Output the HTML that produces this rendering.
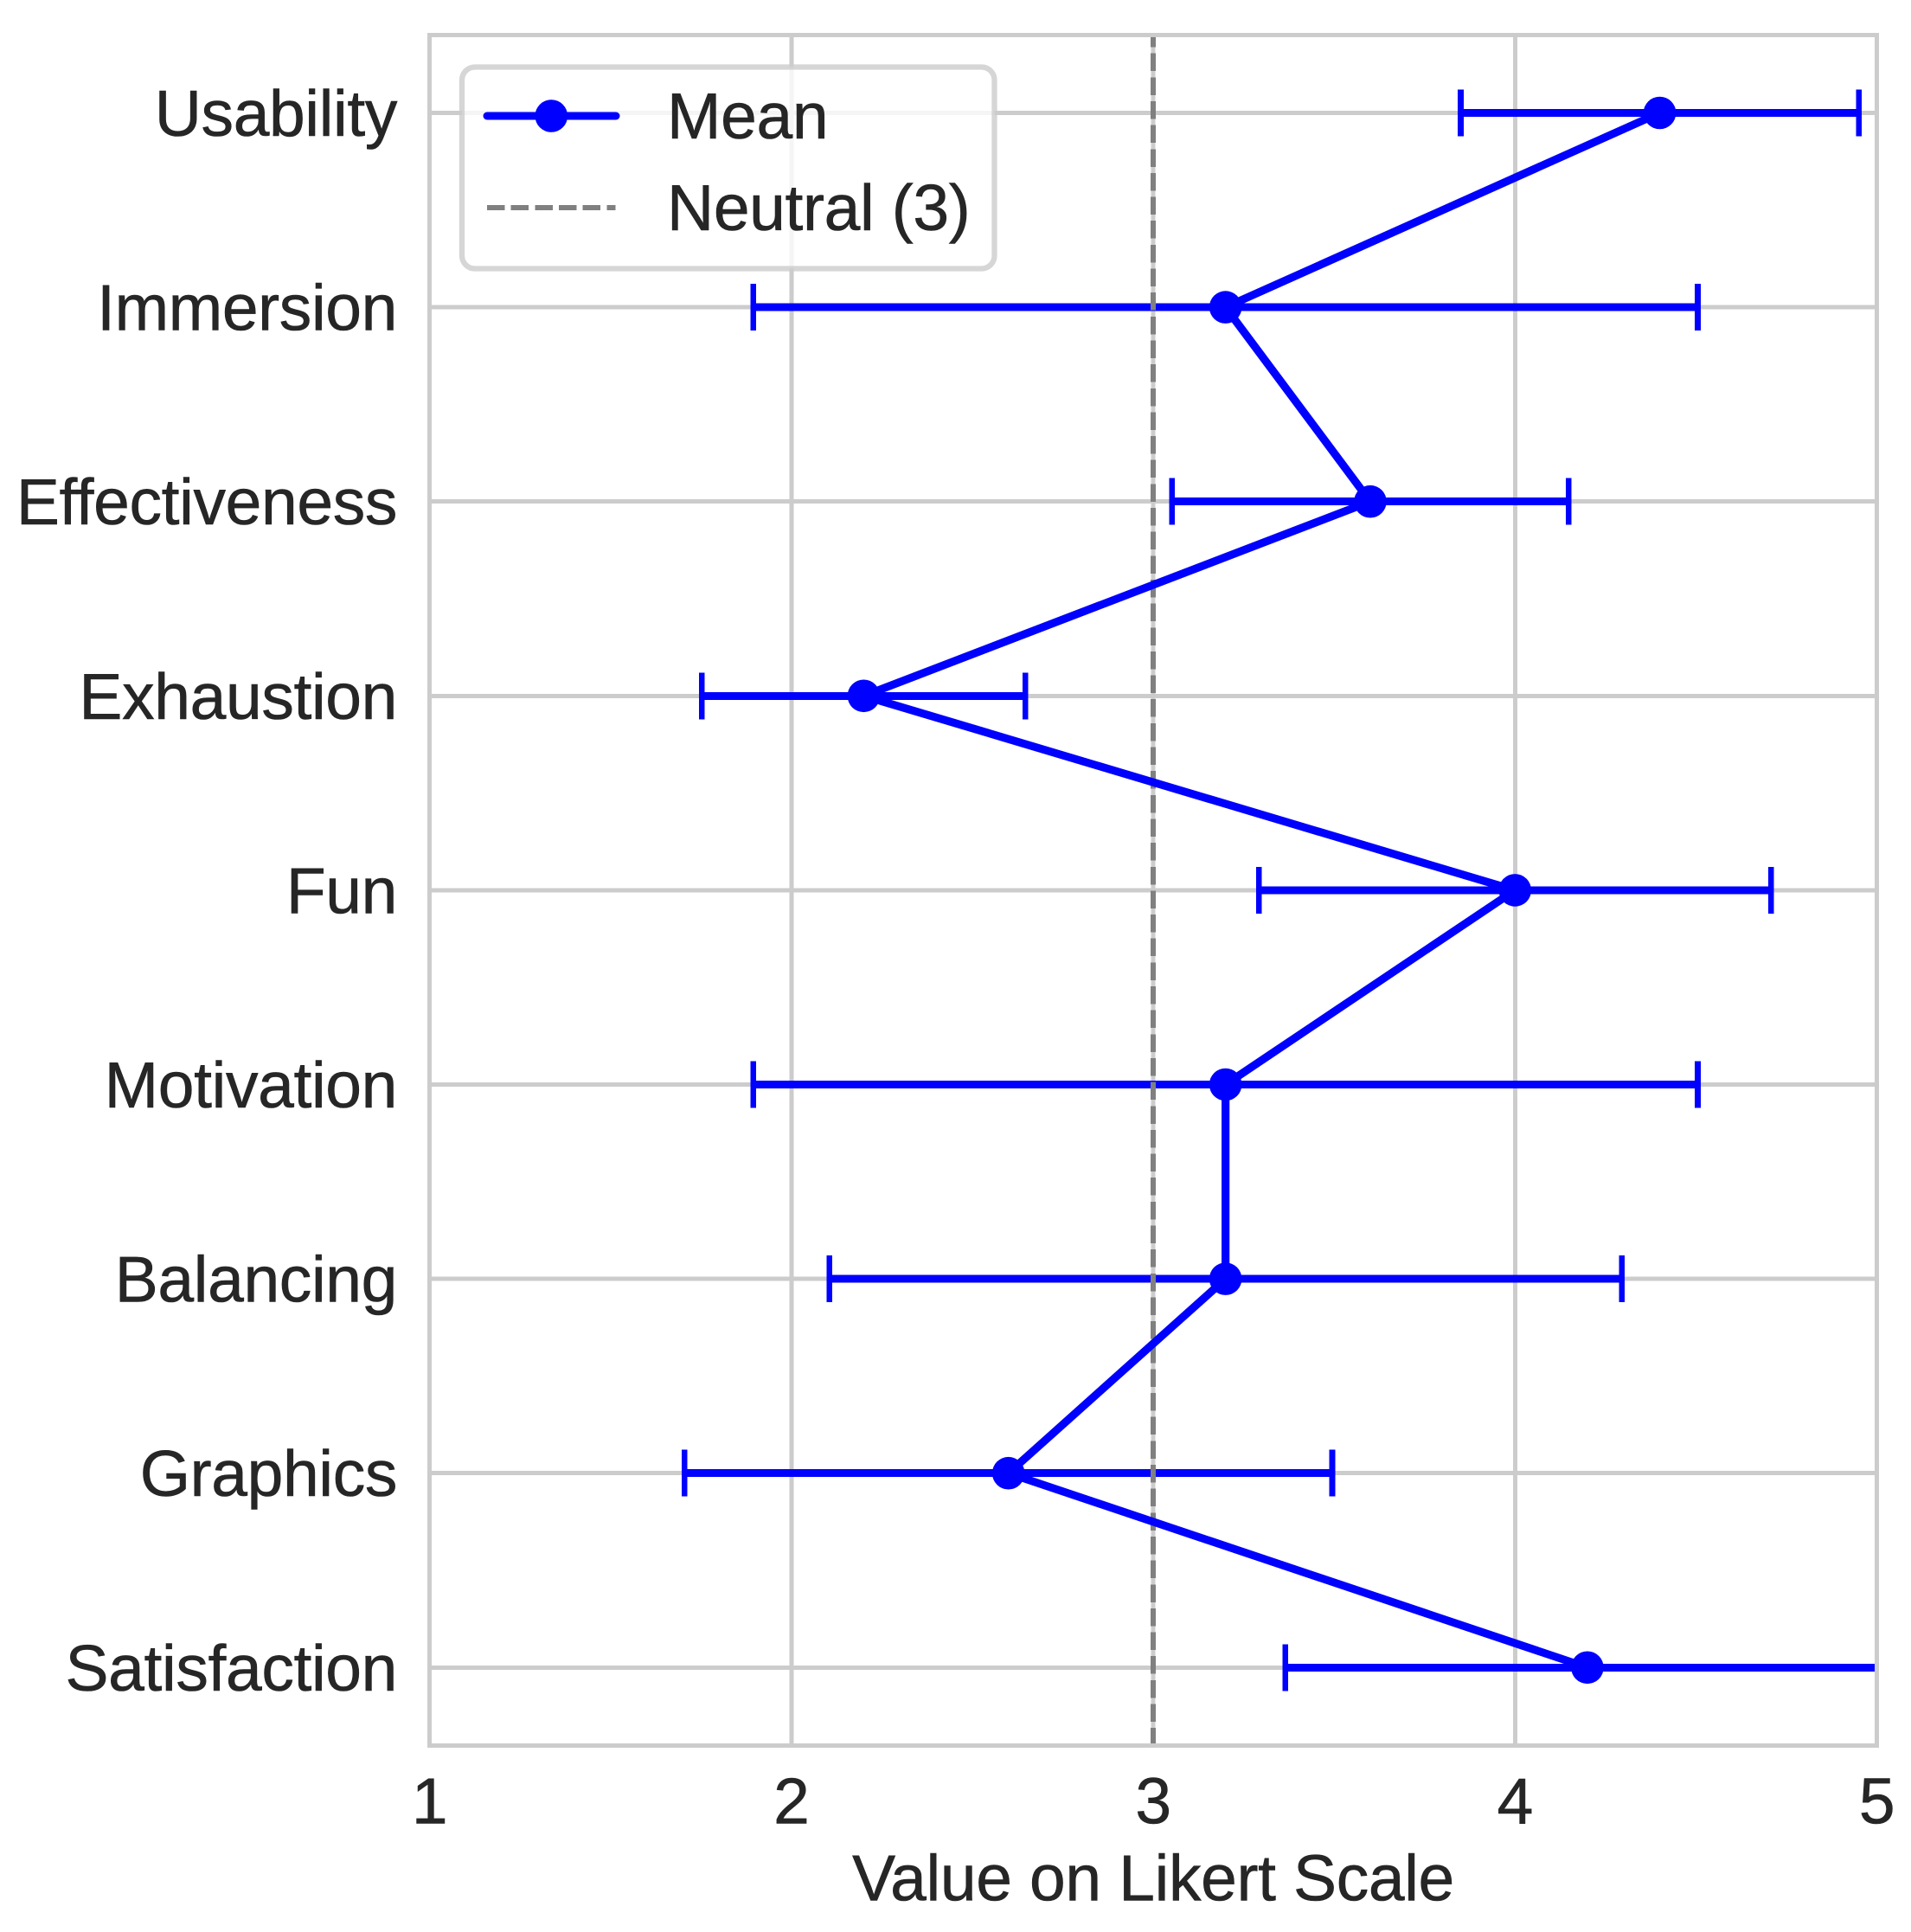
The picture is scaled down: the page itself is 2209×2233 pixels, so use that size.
<!DOCTYPE html>
<html lang="en">
<head>
<meta charset="utf-8">
<title>Value on Likert Scale</title>
<style>
html,body{margin:0;padding:0;background:#fff;width:2209px;height:2233px;overflow:hidden}
svg{display:block}
text{font-family:"Liberation Sans",Arial,sans-serif;fill:#262626;stroke:#262626;stroke-width:0.6px;font-size:75px;letter-spacing:-0.35px}
</style>
</head>
<body>
<svg id="chart" xmlns="http://www.w3.org/2000/svg" width="2209" height="2233" viewBox="0 0 2209 2233"></svg>
<script>
const categories = ["Usability","Immersion","Effectiveness","Exhaustion","Fun","Motivation","Balancing","Graphics","Satisfaction"];
const meanValues = [4.4,3.2,3.6,2.2,4.0,3.2,3.2,2.6,4.2];
const lowerBounds = [3.85,1.895,3.052,1.753,3.292,1.895,2.105,1.705,3.365];
const upperBounds = [4.95,4.505,4.148,2.647,4.708,4.505,4.295,3.495,5.04];
const xTicks = [1,2,3,4,5];
const neutralValue = [3];
const xAxisTitle = "Value on Likert Scale";
const legendLabels = ["Mean","Neutral (3)"];

const NS = "http://www.w3.org/2000/svg";
const svg = document.getElementById("chart");
const plot = {left:496.5,right:2169.5,top:40.5,bottom:2017.5,firstRow:130.5,rowStep:224.6};
const xScale = v => plot.left + (v - 1) * (plot.right - plot.left) / 4;
const yScale = i => plot.firstRow + i * plot.rowStep;

function make(tag, attrs, parent){
  const el = document.createElementNS(NS, tag);
  for (const k in attrs) el.setAttribute(k, attrs[k]);
  (parent || svg).appendChild(el);
  return el;
}

const defs = make("defs", {});
const clip = make("clipPath", {id:"plot-clip"}, defs);
make("rect", {x:plot.left,y:plot.top,width:plot.right-plot.left,height:plot.bottom-plot.top}, clip);

/* grid */
xTicks.forEach(t => {
  const g = make("line", {x1:xScale(t),x2:xScale(t),y1:plot.top,y2:plot.bottom,stroke:"#cccccc","stroke-width":5,"shape-rendering":"crispEdges"});
  
  
});
categories.forEach((c, i) => {
  const g = make("line", {x1:plot.left,x2:plot.right,y1:yScale(i),y2:yScale(i),stroke:"#cccccc","stroke-width":5,"shape-rendering":"crispEdges"});
  
  
});

/* error bars */
const errGroup = make("g", {"clip-path":"url(#plot-clip)"});


categories.forEach((c, i) => {
  const y = yScale(i), a = xScale(lowerBounds[i]), b = xScale(upperBounds[i]);
  const bar = make("line", {x1:a,x2:b,y1:y,y2:y,stroke:"#0000ff","stroke-width":9,"shape-rendering":"crispEdges"}, errGroup);
  
  
  [a, b].forEach(x => {
    const cap = make("line", {x1:x,x2:x,y1:y-27,y2:y+27,stroke:"#0000ff","stroke-width":6.6,"shape-rendering":"crispEdges"}, errGroup);
    
    
  });
});

/* neutral line */
const neutralLine = make("line", {x1:xScale(neutralValue[0]),x2:xScale(neutralValue[0]),y1:2017.65,y2:plot.top,stroke:"#808080","stroke-width":6,"stroke-dasharray":"20.5 7.15","shape-rendering":"crispEdges"});



/* mean line + markers */
const meanPoints = meanValues.map((v, i) => xScale(v) + "," + yScale(i)).join(" ");
const meanLine = make("polyline", {points:meanPoints,fill:"none",stroke:"#0000ff","stroke-width":9.2,"stroke-linejoin":"round","stroke-linecap":"round"});


meanValues.forEach((v, i) => {
  const p = make("circle", {cx:xScale(v),cy:yScale(i),r:18.8,fill:"#0000ff"});
  
  
});

/* spines */
const spines = make("rect", {x:plot.left,y:plot.top,width:plot.right-plot.left,height:plot.bottom-plot.top,fill:"none",stroke:"#cccccc","stroke-width":5,"shape-rendering":"crispEdges"});



/* y labels */
categories.forEach((c, i) => {
  const t = make("text", {x:459,y:yScale(i)+26.5,"text-anchor":"end"});
  t.textContent = c;
  
  
});
/* x labels */
xTicks.forEach(v => {
  const t = make("text", {x:xScale(v),y:2107.5,"text-anchor":"middle"});
  t.textContent = v;
  
  
});
const xTitle = make("text", {x:1333,y:2196.5,"text-anchor":"middle"});
xTitle.textContent = xAxisTitle;



/* legend */
const legend = make("g", {});


make("rect", {x:534,y:77.5,width:615.5,height:233,rx:15,ry:15,fill:"#ffffff","fill-opacity":0.8,stroke:"#cccccc","stroke-opacity":0.8,"stroke-width":6.3}, legend);
const legendMeanLine = make("line", {x1:563,x2:712,y1:134,y2:134,stroke:"#0000ff","stroke-width":9,"stroke-linecap":"round"}, legend);


const legendMeanDot = make("circle", {cx:637.3,cy:134,r:18.8,fill:"#0000ff"}, legend);


const legendMeanText = make("text", {x:771,y:160}, legend);
legendMeanText.textContent = legendLabels[0];


const legendNeutralLine = make("line", {x1:563,x2:711.5,y1:240,y2:240,stroke:"#808080","stroke-width":6,"stroke-dasharray":"20.5 7.15","shape-rendering":"crispEdges"}, legend);


const legendNeutralText = make("text", {x:771,y:266}, legend);
legendNeutralText.textContent = legendLabels[1];


</script>
</body>
</html>
